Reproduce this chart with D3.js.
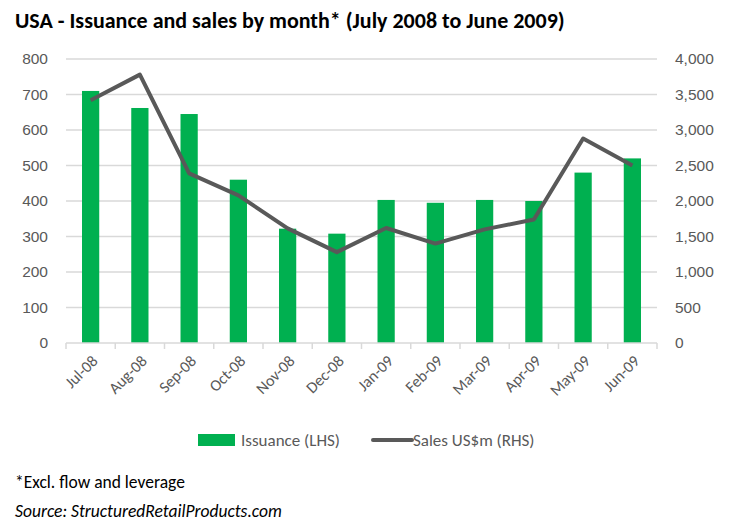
<!DOCTYPE html>
<html>
<head>
<meta charset="utf-8">
<script src="https://cdn.jsdelivr.net/npm/d3@7"></script>
<style>
  body { margin: 0; background: #fff; }
  svg { font-family: Calibri, Carlito, Lato, sans-serif; }
  .grid line { stroke: #d9d9d9; }
  .tick text { fill: #595959; }
</style>
</head>
<body>
<script>
var months = ["Jul-08", "Aug-08", "Sep-08", "Oct-08", "Nov-08", "Dec-08",
  "Jan-09", "Feb-09", "Mar-09", "Apr-09", "May-09", "Jun-09"];
var issuance = [710, 662, 645, 460, 322, 308, 403, 395, 403, 400, 480, 520];
var sales = [3420, 3780, 2390, 2080, 1615, 1280, 1620, 1400, 1600, 1740, 2880, 2500];
var leftTicks = [0, 100, 200, 300, 400, 500, 600, 700, 800];
var rightTicks = [0, 500, 1000, 1500, 2000, 2500, 3000, 3500, 4000];

var width = 743, height = 523;
var margin = {top: 59, left: 66, right: 86, bottom: 180};
var plotW = width - margin.left - margin.right;
var plotH = height - margin.top - margin.bottom;

var svg = d3.select("body").append("svg")
  .attr("width", width)
  .attr("height", height);

svg.append("text")
  .attr("x", 15)
  .attr("y", 28)
  .style("font-weight", "bold")
  .style("font-size", "22px")
  .attr("fill", "#000")
  .text("USA - Issuance and sales by month* (July 2008 to June 2009)");

var g = svg.append("g")
  .attr("transform", "translate(" + margin.left + "," + margin.top + ")");

var x = d3.scaleBand().domain(months).range([0, plotW]).paddingInner(0.65).paddingOuter(0.325);
var xEdge = d3.scaleLinear().domain([0, months.length]).range([0, plotW]);
var yL = d3.scaleLinear().domain([0, 800]).range([plotH, 0]);
var yR = d3.scaleLinear().domain([0, 4000]).range([plotH, 0]);

// gridlines
g.append("g")
  .attr("class", "grid")
  .selectAll("line")
  .data(leftTicks.slice(1))
  .enter()
  .append("line")
  .attr("x1", 0)
  .attr("x2", plotW)
  .attr("y1", function(d) { return yL(d); })
  .attr("y2", function(d) { return yL(d); })
  .attr("stroke-width", 1.5);

// left axis
var leftAxis = g.append("g")
  .call(d3.axisLeft(yL).tickValues(leftTicks).tickSize(0).tickPadding(18));
leftAxis.select(".domain").remove();
leftAxis.selectAll("text").style("font-size", "15.5px");

// right axis
var rightAxis = g.append("g")
  .attr("transform", "translate(" + plotW + ",0)")
  .call(d3.axisRight(yR).tickValues(rightTicks).tickSize(0).tickPadding(18)
    .tickFormat(d3.format(",")));
rightAxis.select(".domain").remove();
rightAxis.selectAll("text").style("font-size", "15.5px");

// bars
g.selectAll(".bar")
  .data(issuance)
  .enter()
  .append("rect")
  .attr("class", "bar")
  .attr("x", function(d, i) { return x(months[i]); })
  .attr("width", x.bandwidth())
  .attr("y", function(d) { return yL(d); })
  .attr("height", function(d) { return plotH - yL(d); })
  .attr("fill", "#00b050");

// x axis baseline and ticks
g.append("line")
  .attr("x1", 0).attr("x2", plotW)
  .attr("y1", plotH).attr("y2", plotH)
  .attr("stroke", "#d9d9d9").attr("stroke-width", 1.5);

g.selectAll(".xtick")
  .data(d3.range(months.length + 1))
  .enter()
  .append("line")
  .attr("class", "xtick")
  .attr("x1", function(d) { return xEdge(d); })
  .attr("x2", function(d) { return xEdge(d); })
  .attr("y1", plotH)
  .attr("y2", plotH + 6)
  .attr("stroke", "#d9d9d9").attr("stroke-width", 1.5);

g.selectAll(".xlabel")
  .data(months)
  .enter()
  .append("text")
  .attr("class", "xlabel")
  .attr("transform", function(d) {
    return "translate(" + (x(d) + x.bandwidth() / 2 + 8) + "," + (plotH + 19) + ") rotate(-45)";
  })
  .style("text-anchor", "end")
  .style("font-size", "16px")
  .attr("fill", "#595959")
  .text(function(d) { return d; });

// sales line
var line = d3.line()
  .x(function(d, i) { return x(months[i]) + x.bandwidth() / 2; })
  .y(function(d) { return yR(d); });

g.append("path")
  .datum(sales)
  .attr("d", line)
  .attr("fill", "none")
  .attr("stroke", "#595959")
  .attr("stroke-width", 4)
  .attr("stroke-linejoin", "round");

// legend
var legend = svg.append("g").attr("transform", "translate(0,440)");
legend.append("rect")
  .attr("x", 198).attr("y", -6)
  .attr("width", 37).attr("height", 12)
  .attr("fill", "#00b050");
legend.append("text")
  .attr("x", 241).attr("y", 6)
  .style("font-size", "17px")
  .attr("fill", "#595959")
  .text("Issuance (LHS)");
legend.append("line")
  .attr("x1", 373).attr("x2", 412)
  .attr("y1", 0).attr("y2", 0)
  .attr("stroke", "#595959")
  .attr("stroke-width", 4)
  .attr("stroke-linecap", "round");
legend.append("text")
  .attr("x", 413).attr("y", 6)
  .style("font-size", "17px")
  .attr("fill", "#595959")
  .text("Sales US$m (RHS)");

// footnotes
svg.append("text")
  .attr("x", 15).attr("y", 488)
  .style("font-size", "17.5px")
  .attr("fill", "#000")
  .text("*Excl. flow and leverage");
svg.append("text")
  .attr("x", 15).attr("y", 517)
  .style("font-size", "17.5px")
  .style("font-style", "italic")
  .attr("fill", "#000")
  .text("Source: StructuredRetailProducts.com");
</script>
</body>
</html>
